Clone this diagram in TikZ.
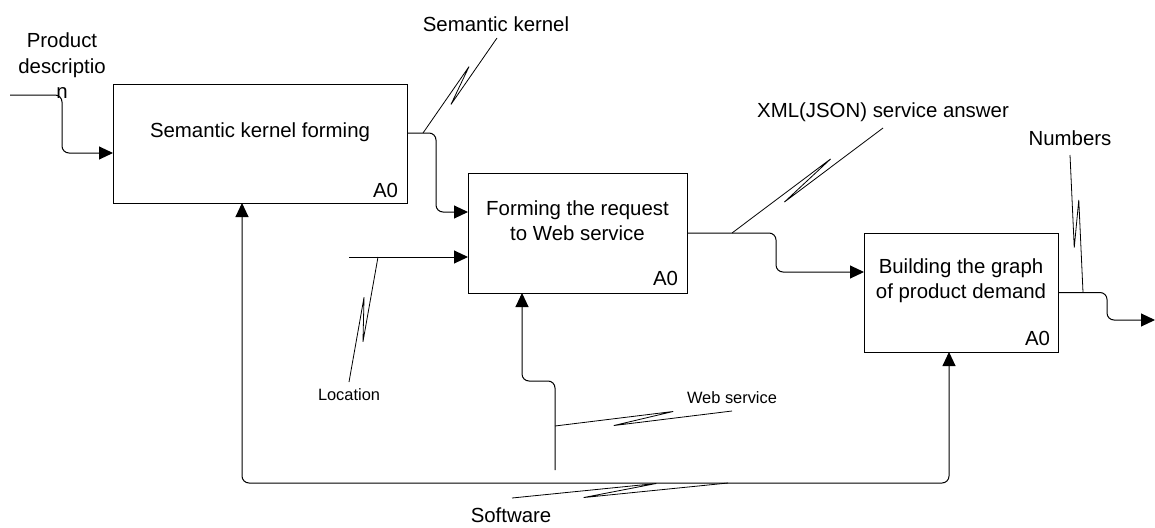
\documentclass[tikz,border=0pt]{standalone}
\usepackage{fontspec}
\setmainfont{Liberation Sans}
\usetikzlibrary{arrows.meta,calc}

% IDEF0 squiggle: a leader from a point on an arrow (#1) to its label (#2),
% with a narrow zig-zag; #3 and #4 give the sides of the two tips.
\newcommand\leaderzig[4]{%
  \draw[leader] (#1) -- ($(#1)!0.67!(#2)!4.5pt!#3:(#2)$)
                     -- ($(#1)!0.33!(#2)!4.5pt!#4:(#2)$) -- (#2);}

\begin{document}
\begin{tikzpicture}[x=1pt,y=-1pt,
  >={Triangle[length=14pt,width=13pt]},
  box/.style={draw, line width=1pt, inner sep=0pt, outer sep=0pt},
  txt/.style={inner sep=0pt, outer sep=0pt, anchor=base,
              font=\fontsize{20.4}{25}\selectfont},
  smalltxt/.style={txt, font=\fontsize{16.4}{20}\selectfont},
  tag/.style={txt, anchor=base east},
  flow/.style={line width=1pt, rounded corners=7pt, ->},
  leader/.style={line width=0.8pt}]
\useasboundingbox (0,0) rectangle (1155,527);

% function boxes
\node[box, minimum width=294pt, minimum height=119pt] (f1) at (260,143.5) {};
\node[box, minimum width=219pt, minimum height=120pt] (f2) at (577.5,233) {};
\node[box, minimum width=194pt, minimum height=119pt] (f3) at (961,292.5) {};

\node[txt] (f1t)  at (260,137)   {Semantic kernel forming};
\node[txt] (f2ta) at (577.5,215) {Forming the request};
\node[txt] (f2tb) at (577.5,240) {to Web service};
\node[txt] (f3ta) at (961,273)   {Building the graph};
\node[txt] (f3tb) at (961,298)   {of product demand};

\node[tag] (f1n) at ($(f1.south east)+(-9,-6)$) {A0};
\node[tag] (f2n) at ($(f2.south east)+(-9,-8)$) {A0};
\node[tag] (f3n) at ($(f3.south east)+(-8,-7)$) {A0};

% arrow labels
\node[txt] (lpd1) at (62,48) {Product};
\node[txt] (lpd2) at (62,73) {descriptio};
\node[txt] (lpd3) at (62,98) {n};
\node[txt] (lsk)  at (496,32)  {Semantic kernel};
\node[txt] (lxml) at (883,117) {XML(JSON) service answer};
\node[txt] (lnum) at (1070,145) {Numbers};
\node[smalltxt] (lloc) at (349,400) {Location};
\node[smalltxt] (lweb) at (732,403) {Web service};
\node[txt] (lsw)  at (511,522) {Software};

% ports on the boxes
\coordinate (i1) at ($(f1.west)+(0,9.5)$);
\coordinate (o1) at ($(f1.east)+(0,-10.5)$);
\coordinate (i2a) at ($(f2.west)+(0,-21)$);
\coordinate (i2b) at ($(f2.west)+(0,24)$);
\coordinate (o2) at (f2.east);
\coordinate (i3) at ($(f3.west)+(0,-20.5)$);
\coordinate (o3) at (f3.east);
\coordinate (c1) at ($(f1.south west)+(129,0)$);
\coordinate (c2) at ($(f2.south west)+(54,0)$);
\coordinate (c3) at ($(f3.south west)+(85,0)$);

% free ends and bends
\coordinate (pin) at (10,95);
\coordinate (j1)  at (62,0);
\coordinate (j12) at (436,0);
\coordinate (j23) at (776,0);
\coordinate (j3)  at (1107,0);
\coordinate (pout) at (1155,320);
\coordinate (loc) at (349,257);
\coordinate (ws)  at (555,470);
\coordinate (wsb) at (0,381);
\coordinate (swl) at (0,483);

% arrows
\draw[flow] (pin) -| (j1 |- i1) -- (i1);
\draw[flow] (o1) -| (j12 |- i2a) -- (i2a);
\draw[flow] (loc) -- (i2b);
\draw[flow] (o2) -| (j23 |- i3) -- (i3);
\draw[flow] (o3) -| (j3 |- pout) -- (pout);
\draw[flow] (ws) -- (ws |- wsb) -| (c2);
\draw[flow, <->] (c1) -- (c1 |- swl) -- (c3 |- swl) -- (c3);

% label leaders
\coordinate (sk0) at (423,133);  \coordinate (sk1) at (497,38);
\coordinate (xm0) at (732,233);  \coordinate (xm1) at (883,128);
\coordinate (nu0) at (1083,292.5); \coordinate (nu1) at (1070,155);
\coordinate (lo0) at (378,257);  \coordinate (lo1) at (349,382);
\coordinate (we0) at (555,426);  \coordinate (we1) at (732,411);
\coordinate (so0) at (728,483);  \coordinate (so1) at (512,498);

\leaderzig{sk0}{sk1}{90}{-90}
\leaderzig{xm0}{xm1}{90}{-90}
\leaderzig{nu0}{nu1}{-90}{90}
\leaderzig{lo0}{lo1}{90}{-90}
\leaderzig{we0}{we1}{90}{-90}
\leaderzig{so0}{so1}{90}{-90}
\end{tikzpicture}
\end{document}
